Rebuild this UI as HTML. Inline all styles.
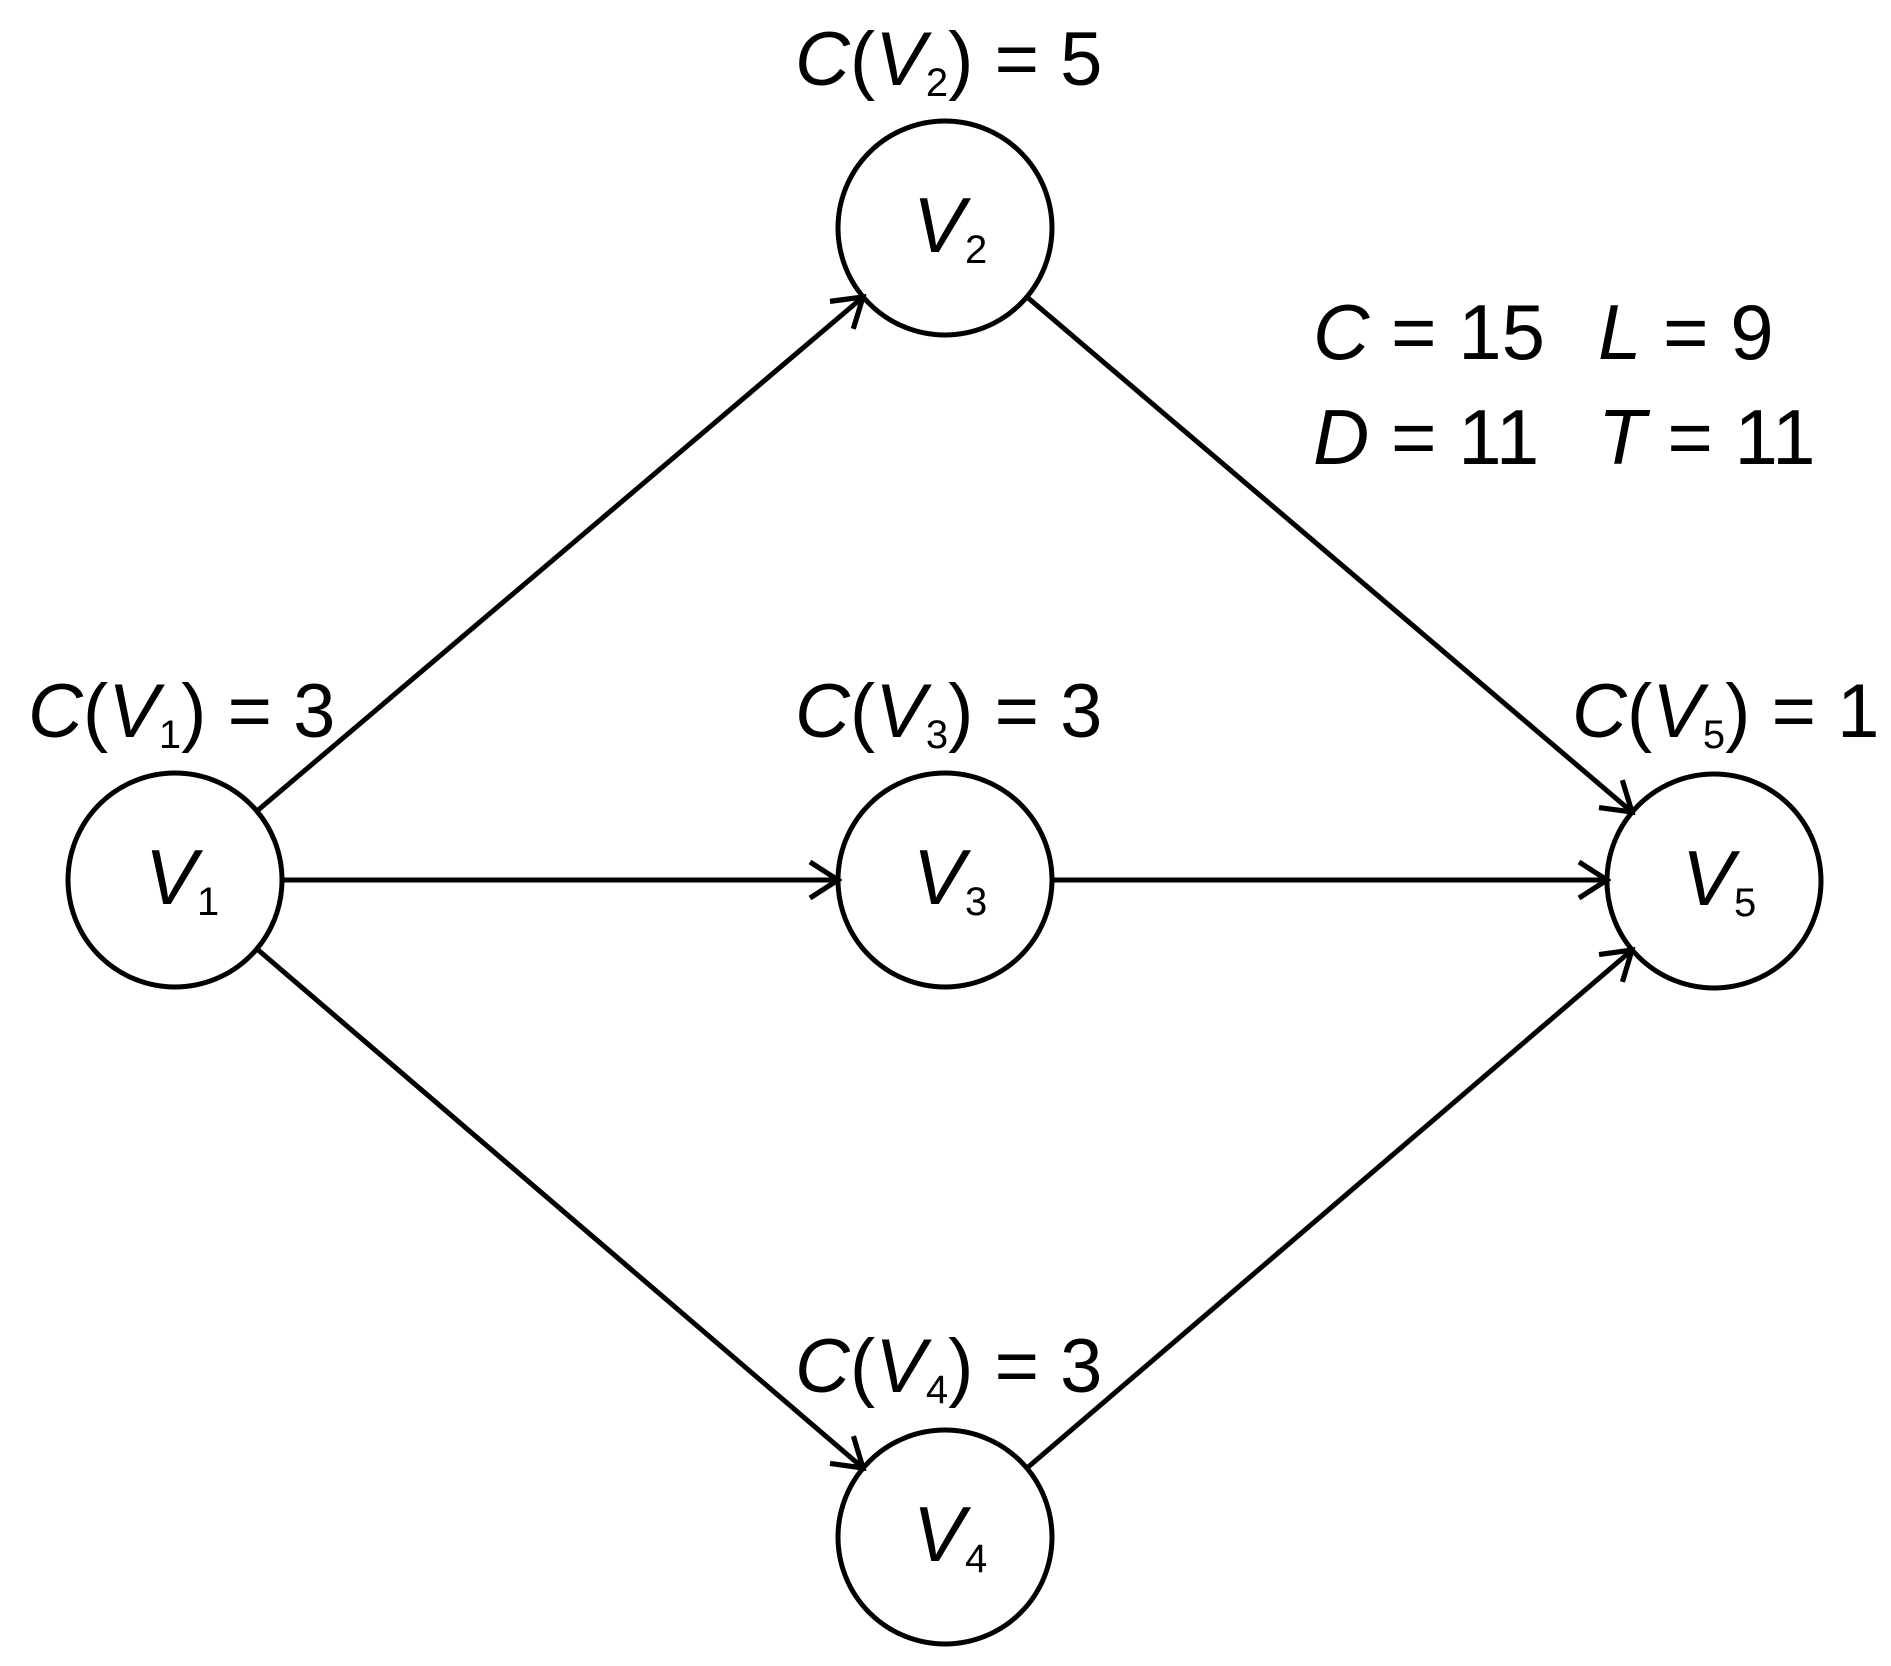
<!DOCTYPE html>
<html><head><meta charset="utf-8"><style>html,body{margin:0;padding:0;background:#fff}svg{display:block}</style></head>
<body>
<svg width="1891" height="1666" viewBox="0 0 1891 1666" xmlns="http://www.w3.org/2000/svg" font-family="Liberation Sans, sans-serif" fill="#000">
<defs>
<marker id="a" markerUnits="userSpaceOnUse" markerWidth="40" markerHeight="40" viewBox="0 0 20 20" refX="18" refY="10" orient="auto">
<path d="M4,1 L18,10 L4,19" fill="none" stroke="#000" stroke-width="2.6"/>
</marker>
</defs>
<g stroke="#000" stroke-width="5" fill="none">
<circle cx="175" cy="880" r="107"/>
<circle cx="945" cy="228" r="107"/>
<circle cx="945" cy="880" r="107"/>
<circle cx="945" cy="1537" r="107"/>
<circle cx="1714" cy="881" r="107"/>
<line x1="257" y1="811" x2="863" y2="297" marker-end="url(#a)"/>
<line x1="282" y1="880" x2="838" y2="880" marker-end="url(#a)"/>
<line x1="257" y1="949" x2="863" y2="1468" marker-end="url(#a)"/>
<line x1="1027" y1="297" x2="1632" y2="812" marker-end="url(#a)"/>
<line x1="1052" y1="880" x2="1607" y2="880" marker-end="url(#a)"/>
<line x1="1027" y1="1468" x2="1632" y2="950" marker-end="url(#a)"/>
</g>
<g font-size="76">
<text x="28" y="737"><tspan font-style="italic">C</tspan>(<tspan font-style="italic">V</tspan><tspan font-size="40" dy="11">1</tspan><tspan dy="-11">) = 3</tspan></text>
<text x="795" y="85"><tspan font-style="italic">C</tspan>(<tspan font-style="italic">V</tspan><tspan font-size="40" dy="11">2</tspan><tspan dy="-11">) = 5</tspan></text>
<text x="795" y="737"><tspan font-style="italic">C</tspan>(<tspan font-style="italic">V</tspan><tspan font-size="40" dy="11">3</tspan><tspan dy="-11">) = 3</tspan></text>
<text x="795" y="1392"><tspan font-style="italic">C</tspan>(<tspan font-style="italic">V</tspan><tspan font-size="40" dy="11">4</tspan><tspan dy="-11">) = 3</tspan></text>
<text x="1572" y="737"><tspan font-style="italic">C</tspan>(<tspan font-style="italic">V</tspan><tspan font-size="40" dy="11">5</tspan><tspan dy="-11">) = 1</tspan></text>
<text x="1313" y="359" font-size="78"><tspan font-style="italic">C</tspan> = 15</text>
<text x="1598" y="359" font-size="78"><tspan font-style="italic">L</tspan> = 9</text>
<text x="1313" y="464" font-size="78"><tspan font-style="italic">D</tspan> = 11</text>
<text x="1598" y="464" font-size="78"><tspan font-style="italic">T</tspan> = 11</text>
</g>
<g font-size="78">
<text x="145" y="904"><tspan font-style="italic">V</tspan><tspan font-size="40" dy="11">1</tspan></text>
<text x="913" y="252"><tspan font-style="italic">V</tspan><tspan font-size="40" dy="11">2</tspan></text>
<text x="913" y="904"><tspan font-style="italic">V</tspan><tspan font-size="40" dy="11">3</tspan></text>
<text x="913" y="1561"><tspan font-style="italic">V</tspan><tspan font-size="40" dy="11">4</tspan></text>
<text x="1682" y="905"><tspan font-style="italic">V</tspan><tspan font-size="40" dy="11">5</tspan></text>
</g>
</svg>
</body></html>
